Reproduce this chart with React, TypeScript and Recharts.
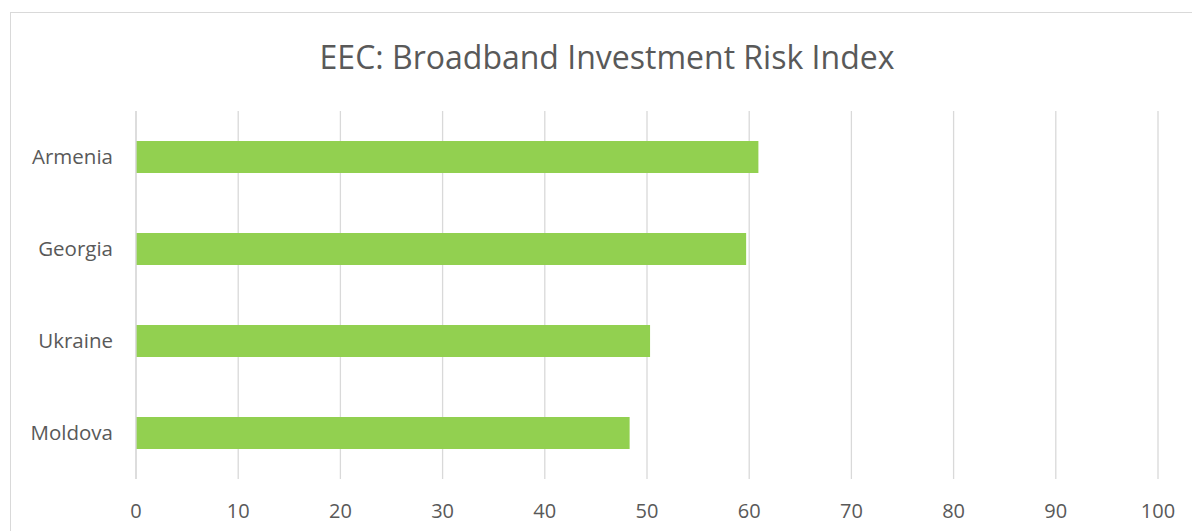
import React from 'react';
import { BarChart, Bar, XAxis, YAxis, CartesianGrid } from 'recharts';

const countries = ['Armenia', 'Georgia', 'Ukraine', 'Moldova'];
const riskIndex = [60.9, 59.7, 50.3, 48.3];
const xTicks = [0, 10, 20, 30, 40, 50, 60, 70, 80, 90, 100];

const data = countries.map((country, i) => ({ country, value: riskIndex[i] }));

const FONT = '"Open Sans", "Noto Sans", sans-serif';
const TEXT = '#595959';
const GRID = '#D9D9D9';

const App: React.FC = () => {
  return (
    <div
      style={{
        position: 'fixed',
        left: 10,
        top: 12,
        width: 1200,
        height: 530,
        border: `1px solid ${GRID}`,
        background: '#FFFFFF',
        fontFamily: FONT,
      }}
    >
      <div
        style={{
          position: 'absolute',
          left: 0,
          width: 1192,
          top: 24,
          textAlign: 'center',
          fontSize: 32,
          color: TEXT,
          lineHeight: '40px',
        }}
      >
        EEC: Broadband Investment Risk Index
      </div>
      <BarChart
        width={1182}
        height={518}
        data={data}
        layout="vertical"
        margin={{ top: 98, right: 35, left: 0, bottom: 12 }}
        style={{ position: 'absolute', left: 0, top: 0 }}
      >
        <CartesianGrid horizontal={false} stroke={GRID} strokeWidth={1.3} />
        <XAxis
          type="number"
          domain={[0, 100]}
          ticks={xTicks}
          interval={0}
          axisLine={false}
          tickLine={false}
          tickSize={0}
          tickMargin={25}
          height={40}
          tick={{ fontSize: 20, fill: TEXT, fontFamily: FONT }}
        />
        <YAxis
          type="category"
          dataKey="country"
          width={125}
          axisLine={{ stroke: GRID, strokeWidth: 1.3 }}
          tickLine={false}
          tickSize={0}
          tickMargin={23}
          tick={{ fontSize: 20.5, fill: TEXT, fontFamily: FONT }}
        />
        <Bar dataKey="value" fill="#92D050" barSize={32} isAnimationActive={false} />
      </BarChart>
    </div>
  );
};

export default App;
